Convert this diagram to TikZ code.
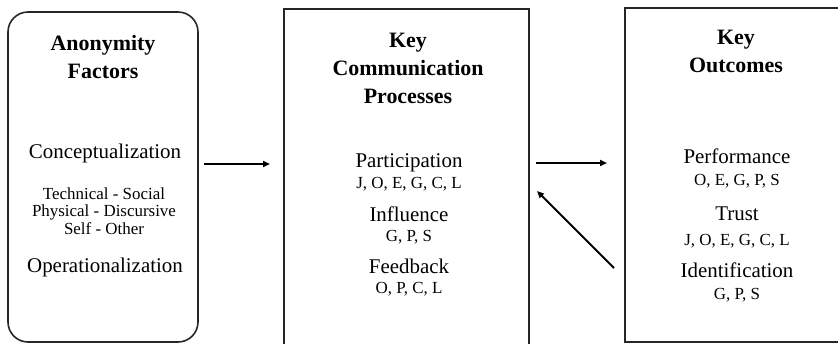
\documentclass[tikz,border=0pt]{standalone}
\usepackage{fontspec}
\setmainfont{Liberation Serif}
\usetikzlibrary{arrows.meta}
\begin{document}
\begin{tikzpicture}[x=1bp,y=-1bp,
  frame/.style={draw=black!85,line width=1.6bp},
  head/.style={font=\fontsize{22}{24}\selectfont\bfseries,anchor=base},
  item/.style={font=\fontsize{21}{23}\selectfont,anchor=base},
  sub/.style={font=\fontsize{17}{19}\selectfont,anchor=base},
  arr/.style={line width=1.8bp,-{Triangle[length=7bp,width=6bp]}}]
\useasboundingbox (0,0) rectangle (838,343);
\begin{scope}
\clip (0,0) rectangle (838,343);
% the three boxes
\draw[frame,rounded corners=20bp] (8,12) rectangle (198,342);
\draw[frame] (284,9) rectangle (529,360);
\draw[frame] (625,8) rectangle (860,342);
\end{scope}
% anonymity factors
\node[head] (t1a) at (103,50) {Anonymity};
\node[head] (t1b) at (103,78) {Factors};
\node[item] (c1) at (105,158) {Conceptualization};
\node[sub] (c2) at (104,199) {Technical - Social};
\node[sub] (c3) at (104,216) {Physical - Discursive};
\node[sub] (c4) at (104,234) {Self - Other};
\node[item] (c5) at (105,272) {Operationalization};
% key communication processes
\node[head] (t2a) at (408,47) {Key};
\node[head] (t2b) at (408,75) {Communication};
\node[head] (t2c) at (408,103) {Processes};
\node[item] (p1) at (409,167) {Participation};
\node[sub] (p2) at (409,188) {J, O, E, G, C, L};
\node[item] (p3) at (409,221) {Influence};
\node[sub] (p4) at (409,241) {G, P, S};
\node[item] (p5) at (409,273) {Feedback};
\node[sub] (p6) at (409,293) {O, P, C, L};
% key outcomes
\node[head] (t3a) at (736,44) {Key};
\node[head] (t3b) at (736,72) {Outcomes};
\node[item] (o1) at (737,163) {Performance};
\node[sub] (o2) at (737,185) {O, E, G, P, S};
\node[item] (o3) at (737,220) {Trust};
\node[sub] (o4) at (737,245) {J, O, E, G, C, L};
\node[item] (o5) at (737,277) {Identification};
\node[sub] (o6) at (737,299) {G, P, S};
% arrows between the boxes
\coordinate (a1s) at (204,164);
\coordinate (a1e) at (270,164);
\coordinate (a2s) at (536,163);
\coordinate (a2e) at (607,163);
\coordinate (a3s) at (614,268);
\coordinate (a3e) at (537,191);
\draw[arr] (a1s) -- (a1e);
\draw[arr] (a2s) -- (a2e);
\draw[arr] (a3s) -- (a3e);
\end{tikzpicture}
\end{document}
